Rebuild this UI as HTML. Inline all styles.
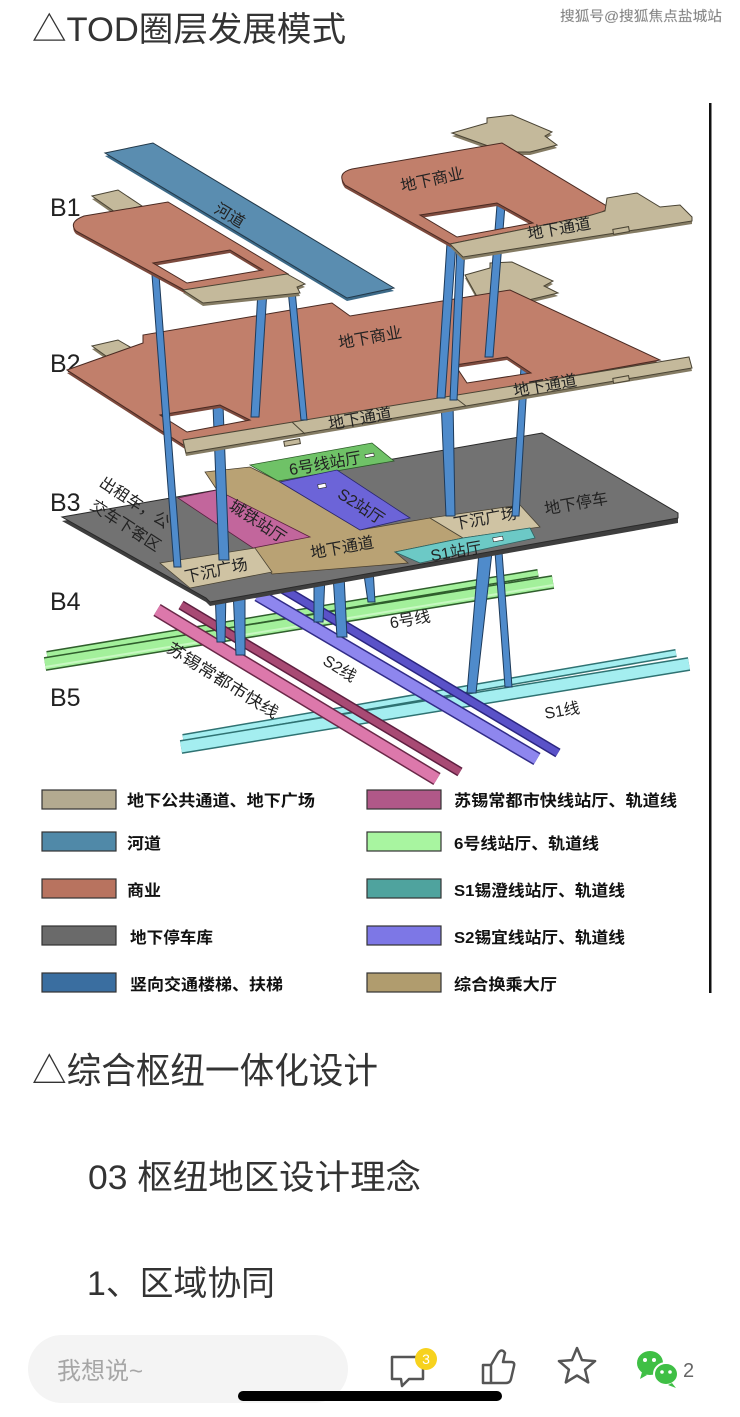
<!DOCTYPE html>
<html><head><meta charset="utf-8">
<style>
html,body{margin:0;padding:0;background:#fff;}
svg{display:block;}
text{font-family:"Liberation Sans","Noto Sans CJK SC",sans-serif;}
.lb{font-size:16px;fill:#222;text-anchor:middle;}
.col{fill:#4f8bcb;stroke:#1d3a5a;stroke-width:1;}
.tan{fill:#c4b99b;stroke:#4a4434;stroke-width:1;}
.tansh{fill:#857c64;}
.br{fill:#c17f6b;stroke:#4a2a22;stroke-width:1;fill-rule:evenodd;}
.brsh{fill:#7d4b3e;fill-rule:evenodd;}
.lg{font-size:16px;font-weight:bold;fill:#111;}
.sw{stroke:#333;stroke-width:1.2;}
</style></head><body>
<svg width="740" height="1417" viewBox="0 0 740 1417" xmlns="http://www.w3.org/2000/svg">
<rect width="740" height="1417" fill="#fff"/>

<!-- Title -->
<text x="32" y="41" font-size="34" fill="#333" textLength="314" lengthAdjust="spacingAndGlyphs">△TOD圈层发展模式</text>
<text x="560" y="21" font-size="14" fill="#777" stroke="#bbb" stroke-width="0.3" textLength="162" lengthAdjust="spacingAndGlyphs">搜狐号@搜狐焦点盐城站</text>

<!-- right vertical line -->
<rect x="709" y="103" width="2.5" height="890" fill="#111"/>

<!-- B labels -->
<text x="50" y="216" font-size="25" fill="#222">B1</text>
<text x="50" y="372" font-size="25" fill="#222">B2</text>
<text x="50" y="511" font-size="25" fill="#222">B3</text>
<text x="50" y="610" font-size="25" fill="#222">B4</text>
<text x="50" y="706" font-size="25" fill="#222">B5</text>

<!-- ===== Tubes ===== -->
<!-- green 6 line -->
<line x1="47" y1="655" x2="538" y2="573" stroke="#2f5e2c" stroke-width="8"/>
<line x1="47" y1="655" x2="538" y2="573" stroke="#a3f09b" stroke-width="5"/>
<line x1="45" y1="664" x2="553" y2="582" stroke="#2f5e2c" stroke-width="14"/>
<line x1="45" y1="664" x2="553" y2="582" stroke="#a3f09b" stroke-width="11"/>
<line x1="45" y1="667" x2="553" y2="585" stroke="#c8f8c2" stroke-width="2"/>
<!-- cyan S1 -->
<line x1="183" y1="738" x2="676" y2="653" stroke="#2f7272" stroke-width="8"/>
<line x1="183" y1="738" x2="676" y2="653" stroke="#a4eef0" stroke-width="5"/>
<line x1="181" y1="747" x2="689" y2="664" stroke="#2f7272" stroke-width="14"/>
<line x1="181" y1="747" x2="689" y2="664" stroke="#a4eef0" stroke-width="11"/>
<!-- pink -->
<line x1="181" y1="605" x2="460" y2="772" stroke="#5e1f40" stroke-width="10"/>
<line x1="181" y1="605" x2="460" y2="772" stroke="#a84a74" stroke-width="7"/>
<line x1="157" y1="610" x2="437" y2="779" stroke="#6a2848" stroke-width="14"/>
<line x1="157" y1="610" x2="437" y2="779" stroke="#dc78ab" stroke-width="11"/>
<!-- purple -->
<line x1="283" y1="589" x2="558" y2="753" stroke="#2b2680" stroke-width="10"/>
<line x1="283" y1="589" x2="558" y2="753" stroke="#5a52c8" stroke-width="7"/>
<line x1="258" y1="595" x2="537" y2="759" stroke="#312c88" stroke-width="14"/>
<line x1="258" y1="595" x2="537" y2="759" stroke="#8e86ee" stroke-width="11"/>

<!-- tube labels -->
<text class="lb" x="410" y="625" font-size="17" transform="rotate(-10 410 619)">6号线</text>
<text class="lb" x="223" y="686" font-size="17" textLength="128" lengthAdjust="spacingAndGlyphs" transform="rotate(32 223 680)">苏锡常都市快线</text>
<text class="lb" x="340" y="674" font-size="17" transform="rotate(32 340 668)">S2线</text>
<text class="lb" x="562" y="716" font-size="17" transform="rotate(-10 562 710)">S1线</text>

<!-- lower columns -->
<polygon class="col" points="215,590 226,590 225,642 217,642"/>
<polygon class="col" points="233,590 245,590 245,655 236,655"/>
<polygon class="col" points="314,575 325,575 323,622 314,622"/>
<polygon class="col" points="333,575 344,575 347,637 337,637"/>
<polygon class="col" points="363,568 373,568 375,602 368,602"/>
<polygon class="col" points="479,552 492,552 476,693 467,693"/>
<polygon class="col" points="495,552 502,552 512,687 505,687"/>

<!-- ===== B3 ===== -->
<polygon points="62,521 542,437 678,517 678,523 210,606 206,602" fill="#3e3e3e"/>
<polygon points="62,517 542,433 678,513 678,518 210,602 206,598" fill="#727272" stroke="#2a2a2a" stroke-width="1"/>
<polygon points="205,472 250,467 280,482 360,530 430,518 463,538 395,552 408,563 272,574 253,548 217,490" fill="#b9a274" stroke="#4a4030" stroke-width="0.8"/>
<polygon points="250,465 372,443 394,461 278,481" fill="#6fc267" stroke="#2c5a28" stroke-width="0.8"/>
<polygon points="178,498 217,490 310,537 253,548" fill="#c2669c" stroke="#5a2040" stroke-width="0.8"/>
<polygon points="280,482 337,470 410,518 360,530" fill="#6c64d8" stroke="#2a2670" stroke-width="0.8"/>
<polygon points="160,563 255,548 272,572 190,588" fill="#cfc3a3" stroke="#4a4434" stroke-width="0.8"/>
<polygon points="430,518 520,505 540,527 463,538" fill="#cfc3a3" stroke="#4a4434" stroke-width="0.8"/>
<polygon points="395,552 463,538 530,528 535,538 420,563" fill="#6cc9c6" stroke="#2a6464" stroke-width="0.8"/>
<rect x="318" y="484" width="8" height="4" fill="#fff" stroke="#222" stroke-width="0.6" transform="rotate(-10 322 486)"/>
<rect x="493" y="537" width="10" height="4" fill="#fff" stroke="#222" stroke-width="0.6" transform="rotate(-10 498 539)"/>
<rect x="365" y="454" width="9" height="3" fill="#fff" stroke="#222" stroke-width="0.6" transform="rotate(-10 369 455)"/>

<text class="lb" x="325" y="469" font-size="17" transform="rotate(-10 325 463)">6号线站厅</text>
<text class="lb" x="362" y="512" font-size="19" transform="rotate(33 362 505)">S2站厅</text>
<text class="lb" x="258" y="527" font-size="18" transform="rotate(33 258 521)">城铁站厅</text>
<text class="lb" x="135" y="508" font-size="17" transform="rotate(33 135 502)">出租车，公</text>
<text class="lb" x="126" y="531" font-size="17" transform="rotate(33 126 525)">交车下客区</text>
<text class="lb" x="342" y="553" font-size="17" transform="rotate(-10 342 547)">地下通道</text>
<text class="lb" x="216" y="576" transform="rotate(-12 216 570)">下沉广场</text>
<text class="lb" x="485" y="524" transform="rotate(-10 485 518)">下沉广场</text>
<text class="lb" x="576" y="509" font-size="17" transform="rotate(-10 576 503)">地下停车</text>
<text class="lb" x="456" y="557" transform="rotate(-10 456 551)">S1站厅</text>

<!-- columns B2->B3 -->
<polygon class="col" points="213,405 223,405 229,560 219,560"/>
<polygon class="col" points="441,400 453,400 455,516 446,516"/>
<polygon class="col" points="521,367 528,367 519,516 512,516"/>

<!-- ===== B2 ===== -->
<polygon class="tansh" points="92,349 118,343 142,357 113,364"/>
<polygon class="tan" points="92,346 118,340 142,354 113,361"/>
<polygon class="tansh" points="465,278 490,271 490,266 512,265 553,284 544,289 558,296 520,305 480,305"/>
<polygon class="tan" points="465,275 490,268 490,263 512,262 553,281 544,286 558,293 520,302 480,302"/>
<path class="brsh" transform="translate(0,3)" d="M67,370 L143,343 L143,335 L332,303 L350,316 L510,290 L660,360 L185,446 Z M160,415 L220,405 L250,420 L187,432 Z M455,365 L507,357 L531,373 L467,383 Z"/>
<path class="br" d="M67,370 L143,343 L143,335 L332,303 L350,316 L510,290 L660,360 L185,446 Z M160,415 L220,405 L250,420 L187,432 Z M455,365 L507,357 L531,373 L467,383 Z"/>
<polygon class="tansh" points="183,443 689,360 692,371 186,456"/>
<polygon class="tan" points="183,440 689,357 692,368 186,453"/>
<line x1="292" y1="422" x2="305" y2="434" stroke="#4a4434" stroke-width="1"/>
<line x1="453" y1="396" x2="466" y2="406" stroke="#4a4434" stroke-width="1"/>
<rect x="284" y="440" width="16" height="5" class="tan" transform="rotate(-10 292 442)"/>
<rect x="613" y="377" width="16" height="5" class="tan" transform="rotate(-10 621 379)"/>
<text class="lb" x="370" y="343" font-size="17" transform="rotate(-10 370 337)">地下商业</text>
<text class="lb" x="360" y="424" transform="rotate(-10 360 418)">地下通道</text>
<text class="lb" x="545" y="391" transform="rotate(-10 545 385)">地下通道</text>

<!-- columns hanging from B1 -->
<polygon class="col" points="152,275 159,275 181,567 174,567"/>
<polygon class="col" points="258,290 267,290 259,417 251,417"/>
<polygon class="col" points="288,290 295,290 307,420 301,420"/>
<polygon class="col" points="447,243 456,243 445,398 437,398"/>
<polygon class="col" points="457,246 465,246 457,400 450,400"/>
<polygon class="col" points="497,205 505,205 493,357 485,357"/>

<!-- river -->
<polygon points="105,156 153,146 394,291 347,301" fill="#3d6a88"/>
<polygon points="105,153 153,143 394,288 347,298" fill="#5a8db0" stroke="#22394a" stroke-width="1"/>
<text class="lb" x="230" y="221" font-size="17" transform="rotate(31 230 215)">河道</text>

<!-- ===== B1 left ===== -->
<polygon class="tansh" points="92,199 118,193 142,209 115,215"/>
<polygon class="tan" points="92,196 118,190 142,206 115,212"/>
<path class="brsh" transform="translate(0,3)" d="M84,216 L168,202 L288,274 L186,291 L76,231 Q68,222 84,216 Z M153,263 L230,250 L263,270 L187,283 Z"/>
<path class="br" d="M84,216 L168,202 L288,274 L186,291 L76,231 Q68,222 84,216 Z M153,263 L230,250 L263,270 L187,283 Z"/>
<polygon class="tansh" points="183,293 287,277 305,287 297,290 300,296 203,306"/>
<polygon class="tan" points="183,290 287,274 305,284 297,287 300,293 203,303"/>

<!-- ===== B1 right ===== -->
<polygon class="tansh" points="452,136 487,126 487,121 512,118 552,135 545,139 557,148 530,155 505,155"/>
<polygon class="tan" points="452,133 487,123 487,118 512,115 552,132 545,136 557,145 530,152 505,152"/>
<path class="brsh" transform="translate(0,3)" d="M352,169 L502,143 L610,208 L600,213 L588,216 L450,244 L345,185 Q336,173 352,169 Z M420,215 L497,203 L533,223 L457,237 Z"/>
<path class="br" d="M352,169 L502,143 L610,208 L600,213 L588,216 L450,244 L345,185 Q336,173 352,169 Z M420,215 L497,203 L533,223 L457,237 Z"/>
<polygon class="tansh" points="450,247 588,219 605,214 607,201 637,196 660,210 680,208 692,220 692,224 463,260"/>
<polygon class="tan" points="450,244 588,216 605,211 607,198 637,193 660,207 680,205 692,217 692,221 463,257"/>
<rect x="613" y="228" width="16" height="5" class="tan" transform="rotate(-10 621 230)"/>
<text class="lb" x="432" y="185" font-size="17" transform="rotate(-12 432 179)">地下商业</text>
<text class="lb" x="559" y="234" transform="rotate(-10 559 228)">地下通道</text>

<!-- ===== Legend ===== -->
<rect class="sw" x="42" y="790" width="74" height="19" fill="#b3aa90"/>
<rect class="sw" x="42" y="832" width="74" height="19" fill="#5089a8"/>
<rect class="sw" x="42" y="879" width="74" height="19" fill="#b8735f"/>
<rect class="sw" x="42" y="926" width="74" height="19" fill="#6a6a6a"/>
<rect class="sw" x="42" y="973" width="74" height="19" fill="#3a6ea0"/>
<rect class="sw" x="367" y="790" width="74" height="19" fill="#b05888"/>
<rect class="sw" x="367" y="832" width="74" height="19" fill="#a8f5a0"/>
<rect class="sw" x="367" y="879" width="74" height="19" fill="#4fa39e"/>
<rect class="sw" x="367" y="926" width="74" height="19" fill="#7d77e6"/>
<rect class="sw" x="367" y="973" width="74" height="19" fill="#b09c6e"/>

<text class="lg" x="127" y="806" textLength="188" lengthAdjust="spacingAndGlyphs">地下公共通道、地下广场</text>
<text class="lg" x="127" y="849" textLength="34" lengthAdjust="spacingAndGlyphs">河道</text>
<text class="lg" x="127" y="896" textLength="34" lengthAdjust="spacingAndGlyphs">商业</text>
<text class="lg" x="130" y="943" textLength="83" lengthAdjust="spacingAndGlyphs">地下停车库</text>
<text class="lg" x="130" y="990" textLength="153" lengthAdjust="spacingAndGlyphs">竖向交通楼梯、扶梯</text>
<text class="lg" x="454" y="806" textLength="223" lengthAdjust="spacingAndGlyphs">苏锡常都市快线站厅、轨道线</text>
<text class="lg" x="454" y="849" textLength="145" lengthAdjust="spacingAndGlyphs">6号线站厅、轨道线</text>
<text class="lg" x="454" y="896" textLength="171" lengthAdjust="spacingAndGlyphs">S1锡澄线站厅、轨道线</text>
<text class="lg" x="454" y="943" textLength="171" lengthAdjust="spacingAndGlyphs">S2锡宜线站厅、轨道线</text>
<text class="lg" x="454" y="990" textLength="103" lengthAdjust="spacingAndGlyphs">综合换乘大厅</text>

<!-- ===== Article text ===== -->
<text x="32" y="1083" font-size="36" fill="#333" textLength="346" lengthAdjust="spacingAndGlyphs">△综合枢纽一体化设计</text>
<text x="88" y="1189" font-size="34" fill="#333" textLength="333" lengthAdjust="spacingAndGlyphs">03 枢纽地区设计理念</text>
<text x="87" y="1295" font-size="34" fill="#333" textLength="188" lengthAdjust="spacingAndGlyphs">1、区域协同</text>

<!-- ===== Bottom bar ===== -->
<rect x="28" y="1335" width="320" height="68" rx="34" fill="#f4f4f4"/>
<text x="57" y="1379" font-size="24" fill="#a6a6a6">我想说~</text>

<!-- comment icon -->
<path d="M392,1357 H423 V1379 H409 L402,1386 L401,1379 H392 Z" fill="none" stroke="#555" stroke-width="2.5" stroke-linejoin="round"/>
<circle cx="426" cy="1359" r="11" fill="#f7d21e"/>
<text x="426" y="1364" font-size="14" fill="#fff" text-anchor="middle">3</text>
<!-- thumb -->
<path d="M483,1365 H491 V1383 H483 Z M491,1365 L498,1353 Q502,1348 505,1353 L503,1362 H511 Q515,1362 514,1366 L511,1379 Q510,1383 506,1383 H491" fill="none" stroke="#555" stroke-width="2.5" stroke-linejoin="round"/>
<!-- star -->
<polygon points="577,1348 582,1360.1 595.1,1361.1 585.1,1369.6 588.2,1382.4 577,1375.5 565.8,1382.4 568.9,1369.6 558.9,1361.1 572,1360.1" fill="none" stroke="#555" stroke-width="2.5" stroke-linejoin="round"/>
<!-- wechat -->
<ellipse cx="650" cy="1363" rx="13" ry="12" fill="#3fbf45"/>
<path d="M642,1372 L640,1379 L647,1375 Z" fill="#3fbf45"/>
<circle cx="645" cy="1360" r="2" fill="#fff"/>
<circle cx="654" cy="1360" r="2" fill="#fff"/>
<ellipse cx="666" cy="1374" rx="12" ry="11" fill="#3fbf45" stroke="#fff" stroke-width="2"/>
<path d="M672,1383 L676,1388 L668,1385 Z" fill="#3fbf45"/>
<circle cx="662" cy="1372" r="1.8" fill="#fff"/>
<circle cx="670" cy="1372" r="1.8" fill="#fff"/>
<text x="683" y="1377" font-size="20" fill="#666">2</text>

<!-- home indicator -->
<rect x="238" y="1391" width="264" height="10" rx="5" fill="#000"/>
</svg>
</body></html>
